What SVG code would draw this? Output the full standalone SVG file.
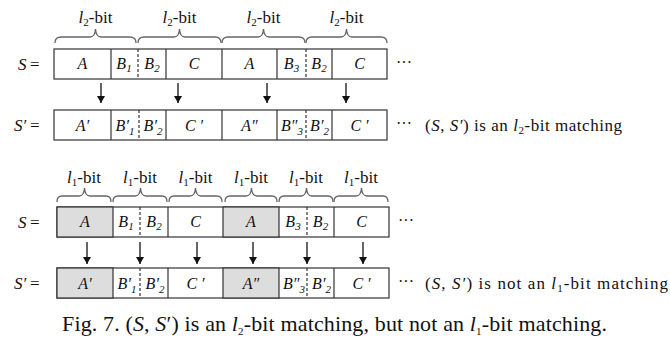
<svg xmlns="http://www.w3.org/2000/svg" width="670" height="338" viewBox="0 0 670 338" font-family="'Liberation Serif', 'DejaVu Serif', serif">
<style>
text{font-family:'Liberation Serif','DejaVu Serif',serif;fill:#111}
.it{font-style:italic}
.cell{font-style:italic;font-size:16px;text-anchor:middle}
.lab{font-size:17px;text-anchor:middle}
.box{fill:#fff;stroke:#333;stroke-width:1.2}
.gray{fill:#ddd;stroke:#333;stroke-width:1.2}
.div{stroke:#333;stroke-width:1.2}
.dash{stroke:#333;stroke-width:1.2;stroke-dasharray:3,2}
.brace{fill:none;stroke:#666;stroke-width:1.3}
.arr{stroke:#111;stroke-width:1.3;marker-end:url(#ah)}
.sub{font-size:11px}
</style>
<defs>
<marker id="ah" markerUnits="userSpaceOnUse" markerWidth="9" markerHeight="9" refX="7" refY="4.5" orient="auto">
<path d="M0,0.5 L7,4.5 L0,8.5 z" fill="#111"/>
</marker>
</defs>

<g id="braces-top">
<path class="brace" d="M55,43 Q55,37 61,37 L90,37 Q95,37 95.5,29 Q96,37 101,37 L130,37 Q136,37 136,43"/>
<path class="brace" d="M138,43 Q138,37 144,37 L174,37 Q179,37 179.5,29 Q180,37 185,37 L215,37 Q221,37 221,43"/>
<path class="brace" d="M222,43 Q222,37 228,37 L258,37 Q263,37 263.5,29 Q264,37 269,37 L299,37 Q305,37 305,43"/>
<path class="brace" d="M306,43 Q306,37 312,37 L341,37 Q346,37 346.5,29 Q347,37 352,37 L381,37 Q387,37 387,43"/>
<text class="lab" x="95.5" y="23"><tspan class="it">l</tspan><tspan class="sub" dy="3">2</tspan><tspan dy="-3">-bit</tspan></text>
<text class="lab" x="179.5" y="23"><tspan class="it">l</tspan><tspan class="sub" dy="3">2</tspan><tspan dy="-3">-bit</tspan></text>
<text class="lab" x="263.5" y="23"><tspan class="it">l</tspan><tspan class="sub" dy="3">2</tspan><tspan dy="-3">-bit</tspan></text>
<text class="lab" x="346.5" y="23"><tspan class="it">l</tspan><tspan class="sub" dy="3">2</tspan><tspan dy="-3">-bit</tspan></text>
</g>

<g id="row-S-top">
<text class="it" x="18" y="70" font-size="17">S</text><text x="30" y="70" font-size="17">=</text>
<rect class="box" x="54" y="49" width="333" height="30"/>
<line class="div" x1="111" y1="49" x2="111" y2="79"/>
<line class="dash" x1="138" y1="49" x2="138" y2="79"/>
<line class="div" x1="166" y1="49" x2="166" y2="79"/>
<line class="div" x1="222" y1="49" x2="222" y2="79"/>
<line class="div" x1="277" y1="49" x2="277" y2="79"/>
<line class="dash" x1="306" y1="49" x2="306" y2="79"/>
<line class="div" x1="332" y1="49" x2="332" y2="79"/>
<text class="cell" x="82.5" y="69">A</text>
<text class="cell" x="124" y="69">B<tspan class="sub" dy="3">1</tspan></text>
<text class="cell" x="152" y="69">B<tspan class="sub" dy="3">2</tspan></text>
<text class="cell" x="194" y="69">C</text>
<text class="cell" x="249.5" y="69">A</text>
<text class="cell" x="291.5" y="69">B<tspan class="sub" dy="3">3</tspan></text>
<text class="cell" x="319" y="69">B<tspan class="sub" dy="3">2</tspan></text>
<text class="cell" x="359.5" y="69">C</text>
<text x="396" y="68" font-size="16">···</text>
</g>

<g id="row-Sp-top">
<text class="it" x="14" y="131" font-size="17">S′</text><text x="30" y="131" font-size="17">=</text>
<rect class="box" x="54" y="110" width="333" height="30"/>
<line class="div" x1="111" y1="110" x2="111" y2="140"/>
<line class="dash" x1="139" y1="110" x2="139" y2="140"/>
<line class="div" x1="166" y1="110" x2="166" y2="140"/>
<line class="div" x1="222" y1="110" x2="222" y2="140"/>
<line class="div" x1="277" y1="110" x2="277" y2="140"/>
<line class="dash" x1="306" y1="110" x2="306" y2="140"/>
<line class="div" x1="332" y1="110" x2="332" y2="140"/>
<text class="cell" x="82.5" y="131" font-size="15">A′</text>
<text class="cell" x="125" y="131" font-size="15">B′<tspan class="sub" font-size="10" dy="4">1</tspan></text>
<text class="cell" x="153" y="131" font-size="15">B′<tspan class="sub" font-size="10" dy="4">2</tspan></text>
<text class="cell" x="194" y="131" font-size="15">C ′</text>
<text class="cell" x="249.5" y="131" font-size="15">A″</text>
<text class="cell" x="292" y="131" font-size="15">B″<tspan class="sub" font-size="10" dy="4">3</tspan></text>
<text class="cell" x="319.5" y="131" font-size="15">B′<tspan class="sub" font-size="10" dy="4">2</tspan></text>
<text class="cell" x="359.5" y="131" font-size="15">C ′</text>
<text x="396" y="129" font-size="16">···</text>
<text x="425" y="131" font-size="17" textLength="197" lengthAdjust="spacing">(<tspan class="it">S</tspan>,  <tspan class="it">S′</tspan>) is an <tspan class="it">l</tspan><tspan class="sub" dy="3">2</tspan><tspan dy="-3">-bit matching</tspan></text>
</g>

<g id="braces-bottom">
<path class="brace" d="M57,202 Q57,196 62,196 L79,196 Q84,196 84.5,188 Q85,196 90,196 L106,196 Q111,196 111,202"/>
<path class="brace" d="M113,202 Q113,196 118,196 L135,196 Q140,196 140.5,188 Q141,196 146,196 L162,196 Q167,196 167,202"/>
<path class="brace" d="M169,202 Q169,196 174,196 L190,196 Q195,196 195.5,188 Q196,196 201,196 L217,196 Q222,196 222,202"/>
<path class="brace" d="M225,202 Q225,196 230,196 L246,196 Q251,196 251.5,188 Q252,196 257,196 L272,196 Q277,196 277,202"/>
<path class="brace" d="M279,202 Q279,196 284,196 L301,196 Q306,196 306.5,188 Q307,196 312,196 L328,196 Q333,196 333,202"/>
<path class="brace" d="M334,202 Q334,196 339,196 L356,196 Q361,196 361.5,188 Q362,196 367,196 L383,196 Q388,196 388,202"/>
<text class="lab" x="84" y="183"><tspan class="it">l</tspan><tspan class="sub" dy="3">1</tspan><tspan dy="-3">-bit</tspan></text>
<text class="lab" x="140" y="183"><tspan class="it">l</tspan><tspan class="sub" dy="3">1</tspan><tspan dy="-3">-bit</tspan></text>
<text class="lab" x="195.5" y="183"><tspan class="it">l</tspan><tspan class="sub" dy="3">1</tspan><tspan dy="-3">-bit</tspan></text>
<text class="lab" x="251" y="183"><tspan class="it">l</tspan><tspan class="sub" dy="3">1</tspan><tspan dy="-3">-bit</tspan></text>
<text class="lab" x="306" y="183"><tspan class="it">l</tspan><tspan class="sub" dy="3">1</tspan><tspan dy="-3">-bit</tspan></text>
<text class="lab" x="361" y="183"><tspan class="it">l</tspan><tspan class="sub" dy="3">1</tspan><tspan dy="-3">-bit</tspan></text>
</g>

<g id="row-S-bottom">
<text class="it" x="18" y="228" font-size="17">S</text><text x="30" y="228" font-size="17">=</text>
<rect class="box" x="57" y="207" width="332" height="30"/>
<rect class="gray" x="57" y="207" width="56" height="30"/>
<rect class="gray" x="223" y="207" width="56" height="30"/>
<line class="dash" x1="140" y1="207" x2="140" y2="237"/>
<line class="div" x1="168" y1="207" x2="168" y2="237"/>
<line class="dash" x1="307" y1="207" x2="307" y2="237"/>
<line class="div" x1="334" y1="207" x2="334" y2="237"/>
<text class="cell" x="85" y="227">A</text>
<text class="cell" x="126" y="227">B<tspan class="sub" dy="3">1</tspan></text>
<text class="cell" x="154" y="227">B<tspan class="sub" dy="3">2</tspan></text>
<text class="cell" x="195.5" y="227">C</text>
<text class="cell" x="251" y="227">A</text>
<text class="cell" x="293" y="227">B<tspan class="sub" dy="3">3</tspan></text>
<text class="cell" x="320.5" y="227">B<tspan class="sub" dy="3">2</tspan></text>
<text class="cell" x="361.5" y="227">C</text>
<text x="398" y="226" font-size="16">···</text>
</g>

<g id="row-Sp-bottom">
<text class="it" x="14" y="289" font-size="17">S′</text><text x="30" y="289" font-size="17">=</text>
<rect class="box" x="57" y="268" width="332" height="30"/>
<rect class="gray" x="57" y="268" width="56" height="30"/>
<rect class="gray" x="223" y="268" width="56" height="30"/>
<line class="dash" x1="140" y1="268" x2="140" y2="298"/>
<line class="div" x1="168" y1="268" x2="168" y2="298"/>
<line class="dash" x1="307" y1="268" x2="307" y2="298"/>
<line class="div" x1="334" y1="268" x2="334" y2="298"/>
<text class="cell" x="85" y="289" font-size="15">A′</text>
<text class="cell" x="127" y="289" font-size="15">B′<tspan class="sub" font-size="10" dy="4">1</tspan></text>
<text class="cell" x="155" y="289" font-size="15">B′<tspan class="sub" font-size="10" dy="4">2</tspan></text>
<text class="cell" x="195.5" y="289" font-size="15">C ′</text>
<text class="cell" x="251" y="289" font-size="15">A″</text>
<text class="cell" x="294" y="289" font-size="15">B″<tspan class="sub" font-size="10" dy="4">3</tspan></text>
<text class="cell" x="321.5" y="289" font-size="15">B′<tspan class="sub" font-size="10" dy="4">2</tspan></text>
<text class="cell" x="361.5" y="289" font-size="15">C ′</text>
<text x="398" y="287" font-size="16">···</text>
<text x="425" y="289" font-size="17" textLength="243" lengthAdjust="spacing">(<tspan class="it">S</tspan>,  <tspan class="it">S′</tspan>) is not an <tspan class="it">l</tspan><tspan class="sub" dy="3">1</tspan><tspan dy="-3">-bit matching</tspan></text>
</g>

<g id="connectors">
<line class="arr" x1="101" y1="83" x2="101" y2="103"/>
<line class="arr" x1="178" y1="83" x2="178" y2="103"/>
<line class="arr" x1="267" y1="83" x2="267" y2="103"/>
<line class="arr" x1="346" y1="83" x2="346" y2="103"/>
<line class="arr" x1="87" y1="242" x2="87" y2="264"/>
<line class="arr" x1="140" y1="242" x2="140" y2="264"/>
<line class="arr" x1="197" y1="242" x2="197" y2="264"/>
<line class="arr" x1="253" y1="242" x2="253" y2="264"/>
<line class="arr" x1="307" y1="242" x2="307" y2="264"/>
<line class="arr" x1="363" y1="242" x2="363" y2="264"/>
</g>

<text x="62" y="331" font-size="22" textLength="545" lengthAdjust="spacing">Fig. 7. (<tspan class="it">S</tspan>, <tspan class="it">S</tspan>′) is an <tspan class="it">l</tspan><tspan class="sub" font-size="14" dy="4">2</tspan><tspan dy="-4">-bit matching, but not an </tspan><tspan class="it">l</tspan><tspan class="sub" font-size="14" dy="4">1</tspan><tspan dy="-4">-bit matching.</tspan></text>
</svg>
